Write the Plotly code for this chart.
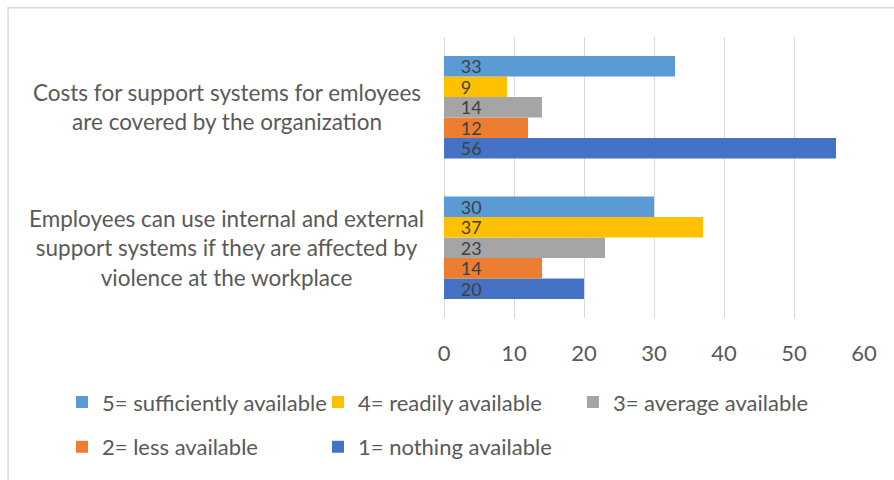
import plotly.graph_objects as go

# Survey items (bottom to top on the category axis)
categories = [
    "Employees can use internal and external<br>support systems if they are affected by<br>violence at the workplace",
    "Costs for support systems for emloyees<br>are covered by the organization",
]

# Rating levels, drawn bottom-up inside each group
series_names = [
    "1= nothing available",
    "2= less available",
    "3= average available",
    "4= readily available",
    "5= sufficiently available",
]
values = {
    "1= nothing available": [20, 56],
    "2= less available": [14, 12],
    "3= average available": [23, 14],
    "4= readily available": [37, 9],
    "5= sufficiently available": [30, 33],
}
colors = {
    "1= nothing available": "#4472C4",
    "2= less available": "#ED7D31",
    "3= average available": "#A5A5A5",
    "4= readily available": "#FFC000",
    "5= sufficiently available": "#5B9BD5",
}
x_ticks = [0, 10, 20, 30, 40, 50, 60]

FONT = "Lato"
TEXT = "#595959"

# legend slot for each series: (legend id, x paper, y paper)
legend_slots = {
    "5= sufficiently available": ("legend", -0.9095, -0.300),
    "4= readily available": ("legend2", -0.300, -0.300),
    "3= average available": ("legend3", 0.307, -0.300),
    "2= less available": ("legend4", -0.9095, -0.459),
    "1= nothing available": ("legend5", -0.300, -0.459),
}

fig = go.Figure()
for name in series_names:
    fig.add_trace(go.Bar(
        y=categories,
        x=values[name],
        name=name,
        orientation="h",
        marker=dict(color=colors[name], line=dict(width=0)),
        text=values[name],
        texttemplate="\u00a0\u00a0\u00a0%{x}",
        textposition="inside",
        insidetextanchor="start",
        constraintext="none",
        textfont=dict(family=FONT, size=18, color="#404040"),
        legend=legend_slots[name][0],
        hoverinfo="skip",
    ))

legend_cfg = {}
for name, (lid, lx, ly) in legend_slots.items():
    legend_cfg[lid] = dict(
        x=lx, y=ly, xanchor="left", yanchor="middle",
        orientation="h", bgcolor="rgba(0,0,0,0)",
        font=dict(family=FONT, size=22, color=TEXT),
        itemwidth=30, tracegroupgap=0,
    )

annotations = []
for cat in categories:
    annotations.append(dict(
        x=-0.5167, xref="paper", y=cat, yref="y",
        text=cat, showarrow=False, align="center",
        xanchor="center", yanchor="middle",
        font=dict(family=FONT, size=22.5, color=TEXT),
    ))

fig.update_layout(
    width=894, height=480,
    margin=dict(l=444, r=30, t=37, b=159),
    paper_bgcolor="white", plot_bgcolor="white",
    barmode="group", bargap=0.27, bargroupgap=0,
    showlegend=True,
    annotations=annotations,
    shapes=[dict(
        type="rect", xref="paper", yref="paper",
        x0=-1.038, x1=1.3, y0=-0.8, y1=1.104,
        line=dict(color="#D9D9D9", width=1.5), fillcolor="rgba(0,0,0,0)",
        layer="below",
    )],
    xaxis=dict(
        range=[0, 60], tickvals=x_ticks, showgrid=True,
        gridcolor="#D9D9D9", gridwidth=1.3,
        zeroline=True, zerolinecolor="#D9D9D9", zerolinewidth=1.3,
        showline=False, ticks="", ticklabelstandoff=20,
        tickfont=dict(family=FONT, size=22, color=TEXT),
        fixedrange=True,
    ),
    yaxis=dict(
        categoryorder="array", categoryarray=categories,
        showticklabels=False, showgrid=False, zeroline=False,
        fixedrange=True,
    ),
    **legend_cfg,
)

fig.write_html("out.html")
